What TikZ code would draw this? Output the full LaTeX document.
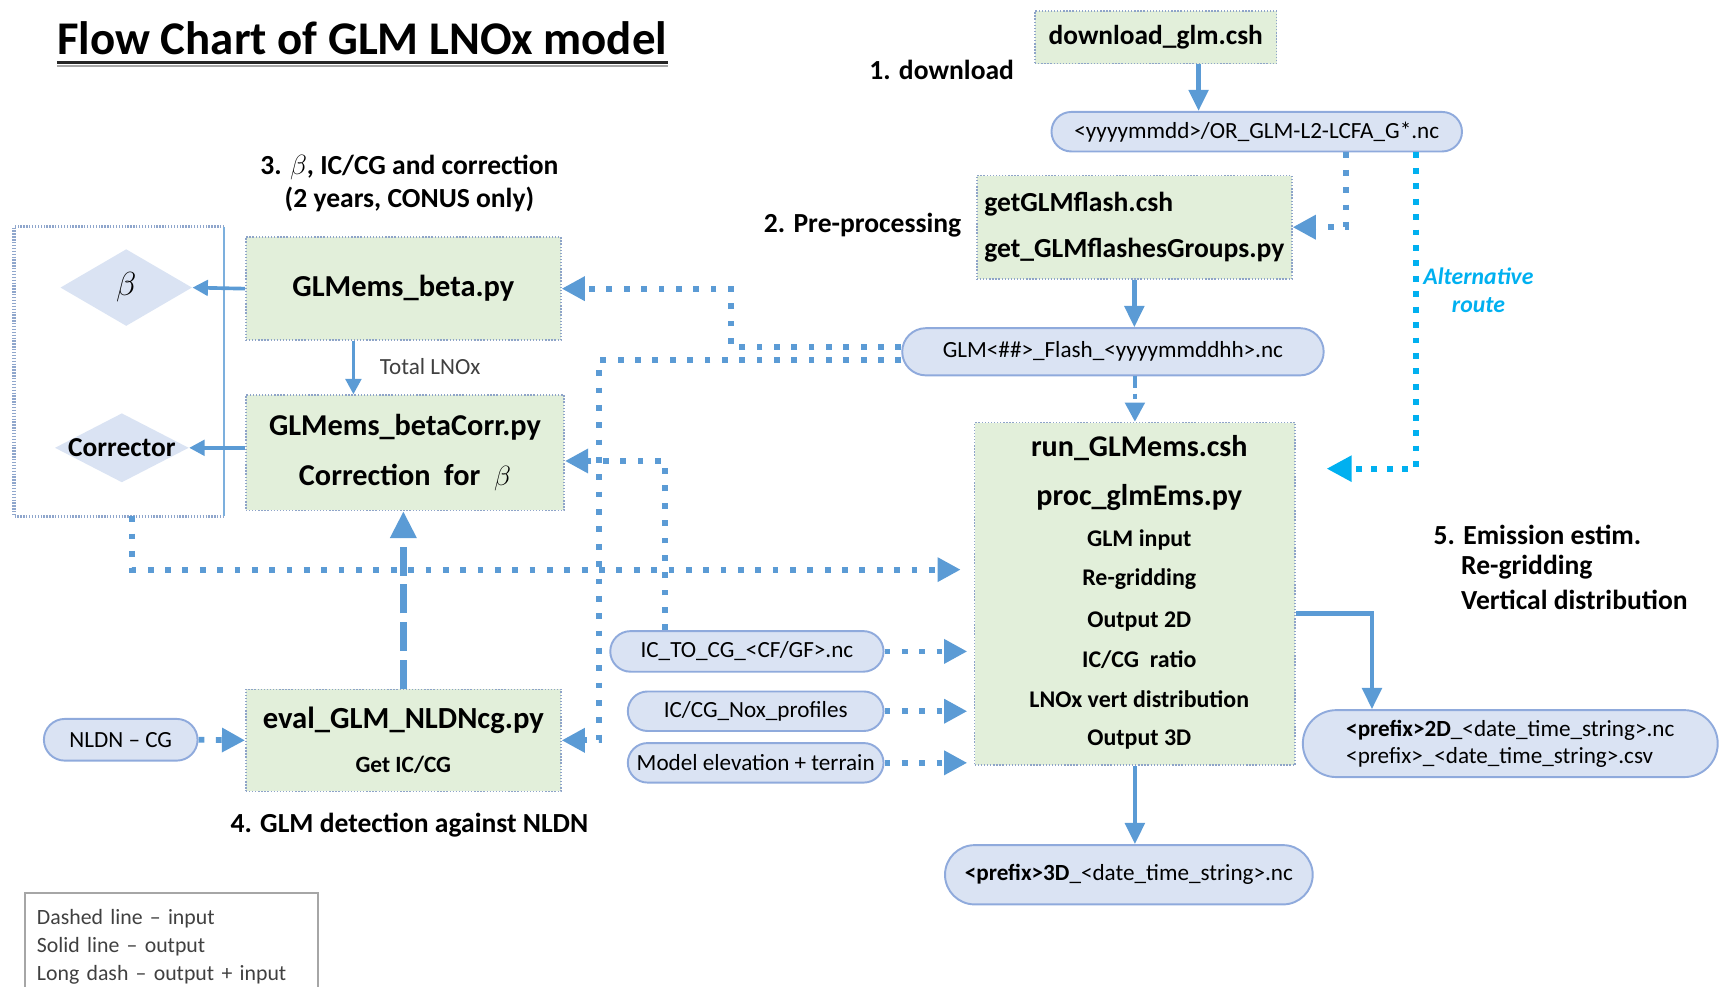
\documentclass[tikz,border=0pt]{standalone}
\usepackage{fontspec}
\setmainfont{Carlito}
\usetikzlibrary{arrows.meta,positioning,shapes.geometric,shapes.misc,calc}

\definecolor{scriptgreen}{HTML}{E2EFDA}
\definecolor{scriptedge}{HTML}{8EA4C8}
\definecolor{filefill}{HTML}{DAE3F3}
\definecolor{fileedge}{HTML}{8FAADC}
\definecolor{flowblue}{HTML}{5B9BD5}
\definecolor{altcyan}{HTML}{00B0F0}
\definecolor{panelgray}{HTML}{8FA6CC}

\newcommand{\setsize}[2]{\fontsize{#1}{#2}\selectfont}

\tikzset{
  scriptbox/.style={draw=scriptedge, line width=0.8pt, dash pattern=on 0.7pt off 0.9pt, fill=scriptgreen, inner sep=0pt, font=\bfseries},
  filebox/.style={rounded rectangle, draw=fileedge, line width=1pt, fill=filefill, inner sep=0pt, font=\setsize{12}{14.2}},
  decision/.style={diamond, fill=filefill, inner sep=0pt},
  steplabel/.style={font=\bfseries\setsize{14.3}{17}},
  outarrow/.style={draw=flowblue, line width=2.3pt, -{Triangle[length=11pt,width=10pt]}},
  thinout/.style={draw=flowblue, line width=1.9pt, -{Triangle[length=8pt,width=8pt]}},
  inarrow/.style={draw=flowblue, line width=3pt, dash pattern=on 3pt off 6pt, -{Triangle[length=12pt,width=12pt]}},
  altarrow/.style={draw=altcyan, line width=3pt, dash pattern=on 3pt off 5pt, -{Triangle[length=13pt,width=13pt]}},
  dotdasharrow/.style={draw=flowblue, line width=2.3pt, dash pattern=on 6pt off 3pt on 3pt off 3pt, -{Triangle[length=10pt,width=10pt]}},
  mixedarrow/.style={draw=flowblue, line width=3.4pt, dash pattern=on 15pt off 4.5pt, -{Triangle[length=14pt,width=13pt]}},
}

\begin{document}
\begin{tikzpicture}[x=0.2mm, y=-0.2mm]
  \useasboundingbox (0,0) rectangle (1568,899);

  % Title
  \node[font=\bfseries\setsize{24.3}{29}, inner sep=0pt, anchor=base] (title) at (330,50) {Flow Chart of GLM LNOx model};
  \draw[line width=1pt, black!35] ([yshift=-5.6pt]title.base west) -- ([yshift=-5.6pt]title.base east);
  \draw[line width=1.4pt, black!85] ([yshift=-3.9pt]title.base west) -- ([yshift=-3.9pt]title.base east);

  % 1. download and 2. pre-processing
  \node[scriptbox, minimum width=44mm, minimum height=9.6mm, font=\bfseries\setsize{14.2}{17}] (dl) at (1053,34) {download\_glm.csh};
  \node[filebox, minimum width=74.8mm, minimum height=7.2mm] (raw) at (1145,120) {<yyyymmdd>/OR\_GLM-L2-LCFA\_G*.nc};
  \node[scriptbox, minimum width=57.4mm, minimum height=18.8mm, align=left, font=\bfseries\setsize{14.3}{24}] (pre) at (1033.5,207) {getGLMflash.csh\\get\_GLMflashesGroups.py};
  \node[filebox, minimum width=76.8mm, minimum height=8.6mm] (flash) at (1014,320.5) {GLM<\#\#>\_Flash\_<yyyymmddhh>.nc};
  \node[steplabel, anchor=east] (lbl-dl) at (930,64) {1. download};
  \node[steplabel, anchor=east] (lbl-pre) at (882,205) {2. Pre-processing};
  \node[align=center, text=altcyan, font=\bfseries\itshape\setsize{12.3}{14.2}] (lbl-alt) at (1347,264.5) {Alternative\\route};

  % 3. beta, IC/CG and correction
  \node[steplabel, align=center] (lbl-beta) at (373,167) {3. $\beta$, IC/CG and correction\\(2 years, CONUS only)};
  \node[scriptbox, minimum width=57.4mm, minimum height=18.8mm, font=\bfseries\setsize{15.8}{19}] (beta) at (367.5,263) {GLMems\_beta.py};
  \node[scriptbox, minimum width=58mm, minimum height=21mm, align=center, font=\bfseries\setsize{15.7}{25.6}] (corr) at (369,412.5) {GLMems\_betaCorr.py\\Correction~ for~ $\beta$};
  \node[font=\setsize{12}{14}, text=black!75, anchor=west] (lbl-total) at (340,334) {Total LNOx};
  \node[minimum width=38.2mm, minimum height=52.6mm, inner sep=0pt] (panel) at (108.5,338.5) {};
  \draw[panelgray, line width=1.7pt, dash pattern=on 0.7pt off 0.8pt] (panel.north east) -- (panel.north west) -- (panel.south west) -- (panel.south east);
  \draw[flowblue!80, line width=1pt] (panel.north east) -- (panel.south east);
  \node[decision, minimum width=24mm, minimum height=14mm] (dbeta) at (115,262) {};
  \node[font=\setsize{18}{20}] (dbeta-txt) at (dbeta) {$\beta$};
  \node[decision, minimum width=24.4mm, minimum height=12.6mm] (dcorr) at (111,408) {};
  \node[font=\bfseries\setsize{14.2}{17}] (dcorr-txt) at (dcorr) {Corrector};

  % 4. GLM detection against NLDN
  \node[scriptbox, minimum width=57.4mm, minimum height=18.6mm, align=center, font=\bfseries\setsize{15.9}{22.8}] (eval) at (367.5,674.5) {eval\_GLM\_NLDNcg.py\\{\setsize{12.1}{22.8}Get IC/CG}};
  \node[filebox, minimum width=28mm, minimum height=7.6mm] (nldn) at (110,674) {NLDN – CG};
  \node[steplabel] (lbl-eval) at (373,752) {4. GLM detection against NLDN};

  % 5. Emission estimation
  \node[scriptbox, minimum width=58.4mm, minimum height=62.4mm] (run) at (1034,541) {};
  \foreach \y/\sz/\txt in {408/15.6/run\_GLMems.csh, 453/15.6/proc\_glmEms.py, 492/12.4/GLM input,
      528/12.4/Re-gridding, 566/12.4/Output 2D, 601/12.4/{IC/CG\ \ ratio},
      637/12.4/LNOx vert distribution, 674/12.4/Output 3D}
    \node[font=\bfseries\setsize{\sz}{\sz}] (run-\y) at (1038,\y) {\txt};
  \node[filebox, minimum width=49.8mm, minimum height=7.4mm] (ictocg) at (680.5,593.5) {IC\_TO\_CG\_<CF/GF>.nc};
  \node[filebox, minimum width=46.6mm, minimum height=7.2mm] (noxprof) at (688.5,648) {IC/CG\_Nox\_profiles};
  \node[filebox, minimum width=46.6mm, minimum height=7.2mm] (elev) at (688.5,695) {Model elevation + terrain};
  \node[filebox, minimum width=67mm, minimum height=10.8mm] (out3d) at (1028.5,797) {\textbf{<prefix>3D}\_<date\_time\_string>.nc};
  \node[filebox, minimum width=75.6mm, minimum height=12.2mm, align=left] (out2d) at (1376,677.5) {\textbf{<prefix>2D}\_<date\_time\_string>.nc\\<prefix>\_<date\_time\_string>.csv};
  \node[steplabel, anchor=west] (lbl-run) at (1300,487) {5. Emission estim.};
  \node[steplabel, anchor=west] (lbl-regrid) at (1325,517) {Re-gridding};
  \node[steplabel, anchor=west] (lbl-vert) at (1325,547) {Vertical distribution};

  % Legend (its lower edge runs off the page)
  \node[draw=black!35, line width=0.8pt, anchor=north west, text width=49mm, align=left, minimum height=19.4mm,
        inner xsep=2.2mm, inner ysep=1.6mm, font=\setsize{11.3}{14.5}, text=black!75] (legend) at (22,813)
        {Dashed line – input\\Solid line – output\\Long dash – output + input\\[6pt]};

  % Connectors
  \draw[outarrow] ([xshift=7.8mm]dl.south) -- ([xshift=7.8mm]dl.south |- raw.north);
  \draw[inarrow] ([xshift=16.2mm]raw.south) |- (pre.east);
  \draw[altarrow, shorten >=5.6mm] ([xshift=29mm]raw.south) |- ([yshift=22.8mm]run.east);
  \draw[outarrow] (pre.south) -- (pre.south |- flash.north);
  \draw[dotdasharrow] (flash.south -| run.north) -- (run.north);
  \draw[inarrow] ([yshift=0.9mm]flash.west) -| ([xshift=30.8mm]beta.east) -- (beta.east);
  \draw[inarrow] ([yshift=-1.5mm]flash.west) -| ([xshift=6.8mm]eval.east) -- (eval.east);
  \draw[inarrow] ([xshift=-14.9mm]ictocg.north) |- ([yshift=-1.5mm]corr.east);
  \draw[inarrow, shorten >=2.4mm] ([xshift=2.3mm]panel.south) |- ([yshift=4.4mm]run.west);
  \draw[inarrow] (nldn.east) -- (eval.west);
  \foreach \f in {ictocg, noxprof, elev}
    \draw[inarrow, shorten >=1.2mm] (\f.east) -- (\f.east -| run.west);
  \draw[mixedarrow] (eval.north) -- (eval.north |- corr.south);
  \draw[thinout] ([xshift=-9.1mm]beta.south) -- ([xshift=-9.1mm]beta.south |- corr.north);
  \draw[thinout] (beta.west) -- (dbeta.east);
  \draw[thinout] (corr.west |- dcorr) -- (dcorr.east);
  \draw[outarrow] (run.south) -- (run.south |- out3d.north);
  \draw[outarrow] ([yshift=-3.6mm]run.east) -| ([xshift=-25.2mm]out2d.north);
\end{tikzpicture}
\end{document}
